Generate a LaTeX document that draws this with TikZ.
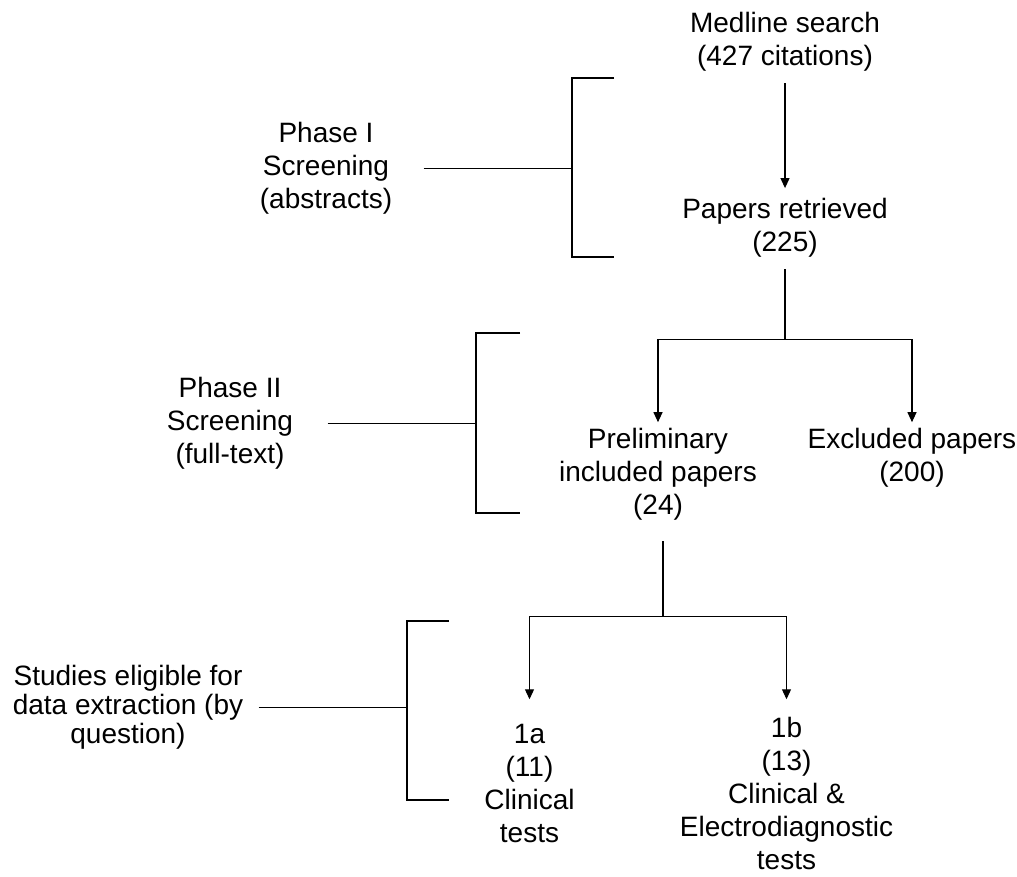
\documentclass[tikz,border=0pt]{standalone}
\usepackage{fontspec}
\setmainfont{Liberation Sans}
\usetikzlibrary{arrows.meta}
\begin{document}
\begin{tikzpicture}
[x=1pt,y=-1pt,line width=1.1pt,%
  every node/.style={align=center,inner sep=0pt,anchor=north,font=\fontsize{28}{33}\selectfont},%
  edge from parent/.style={draw,-{Triangle[length=10pt,width=9pt]}},%
  level 1/.style={level distance=156pt,
    edge from parent path={(\tikzparentnode.south) -- (\tikzchildnode.north)},
    edge from parent/.append style={shorten <=11pt,shorten >=10pt}},%
  level 2/.style={level distance=199pt,sibling distance=254pt,
    edge from parent path={(\tikzparentnode.south) -- ++(0,-81pt) -| (\tikzchildnode.north)},
    edge from parent/.append style={shorten >=5pt}},%
  level 3/.style={level distance=249.5pt,sibling distance=257pt,xshift=4pt,
    edge from parent path={([xshift=5pt,yshift=-10pt]\tikzparentnode.south) -- ++(0,-86pt) -| (\tikzchildnode.north)},
    edge from parent/.append style={shorten >=24pt}}]
\useasboundingbox (0,0) rectangle (1017,877);
\node (medline) at (785,12) {Medline search\\(427 citations)}
  child {node (retrieved) {Papers retrieved\\(225)}
    child {node (prelim) {Preliminary\\included papers\\(24)}
      child {node (q1a) {1a\\(11)\\Clinical\\tests}}
      child {node[yshift=7pt] (q1b) {1b\\(13)\\Clinical \&\\Electrodiagnostic\\tests}
        edge from parent[shorten >=17pt]}
    }
    child {node (excluded) {Excluded papers\\(200)}}
  };
% phases
\node (phase1) at (326,122) {Phase I\\Screening\\(abstracts)};
\node (phase2) at (230,377) {Phase II\\Screening\\(full-text)};
\node[font=\fontsize{28}{29}\selectfont] (studies) at (128,665)
  {Studies eligible for\\data extraction (by\\question)};
\coordinate (b1) at (572,168);
\coordinate (b2) at (476,423);
\coordinate (b3) at (407,710);
\draw (614,78) -- (572,78) -- (572,257) -- (614,257);
\draw (520,333) -- (476,333) -- (476,513) -- (520,513);
\draw (449,621) -- (407,621) -- (407,800) -- (449,800);
\draw[shorten <=31pt] (phase1.east) -- (phase1.east -| b1);
\draw[shorten <=34pt] (phase2.east) -- (phase2.east -| b2);
\draw[shorten <=15pt] (studies.east) -- (studies.east -| b3);
\end{tikzpicture}
\end{document}
